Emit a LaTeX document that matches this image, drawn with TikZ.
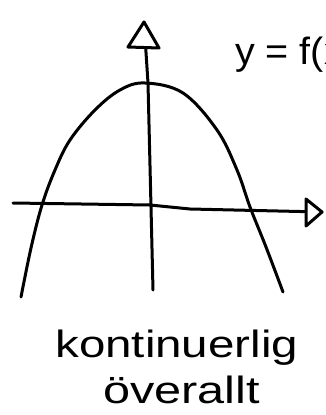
\documentclass[tikz,border=0pt]{standalone}
\usepackage{fontspec}
\setmainfont{Liberation Sans}
\begin{document}
\begin{tikzpicture}[x=1pt,y=-1pt,
  pen/.style={line width=3pt,line join=round,line cap=round},
  hand/.style={inner sep=0pt,anchor=base west}]
\useasboundingbox (0,0) rectangle (325,415);
% axes
\coordinate (vtop) at (144,22);
\coordinate (vbot) at (153,290);
\coordinate (hl) at (13,203);
\coordinate (hr) at (322,212);
\draw[pen] (vtop) -- (148,83) -- (vbot);
\draw[pen] (hl) -- (150,205) -- (190,209) -- (hr);
% open arrowheads
\draw[pen,fill=white] (vtop) -- (159,48) -- (128,47) -- cycle;
\draw[pen,fill=white] (hr) -- (306,199) -- (306,226) -- cycle;
% parabola
\draw[pen] plot[smooth,tension=0.6] coordinates {(21,297) (31,248) (42,205) (55,170) (70,140) (95,110) (120,90) (145,83) (183,93) (217,130) (237,170) (250,207) (266,247) (283,292)};
% texts
\node[hand,font=\fontsize{38}{40}\selectfont,xscale=1.04] (fx) at (235,64) {y = f(x)};
\node[hand,font=\fontsize{38}{40}\selectfont,xscale=1.25] (k) at (55,357) {kontinuerlig};
\node[hand,font=\fontsize{38}{40}\selectfont,xscale=1.28] (o) at (103,403) {överallt};
\end{tikzpicture}
\end{document}
